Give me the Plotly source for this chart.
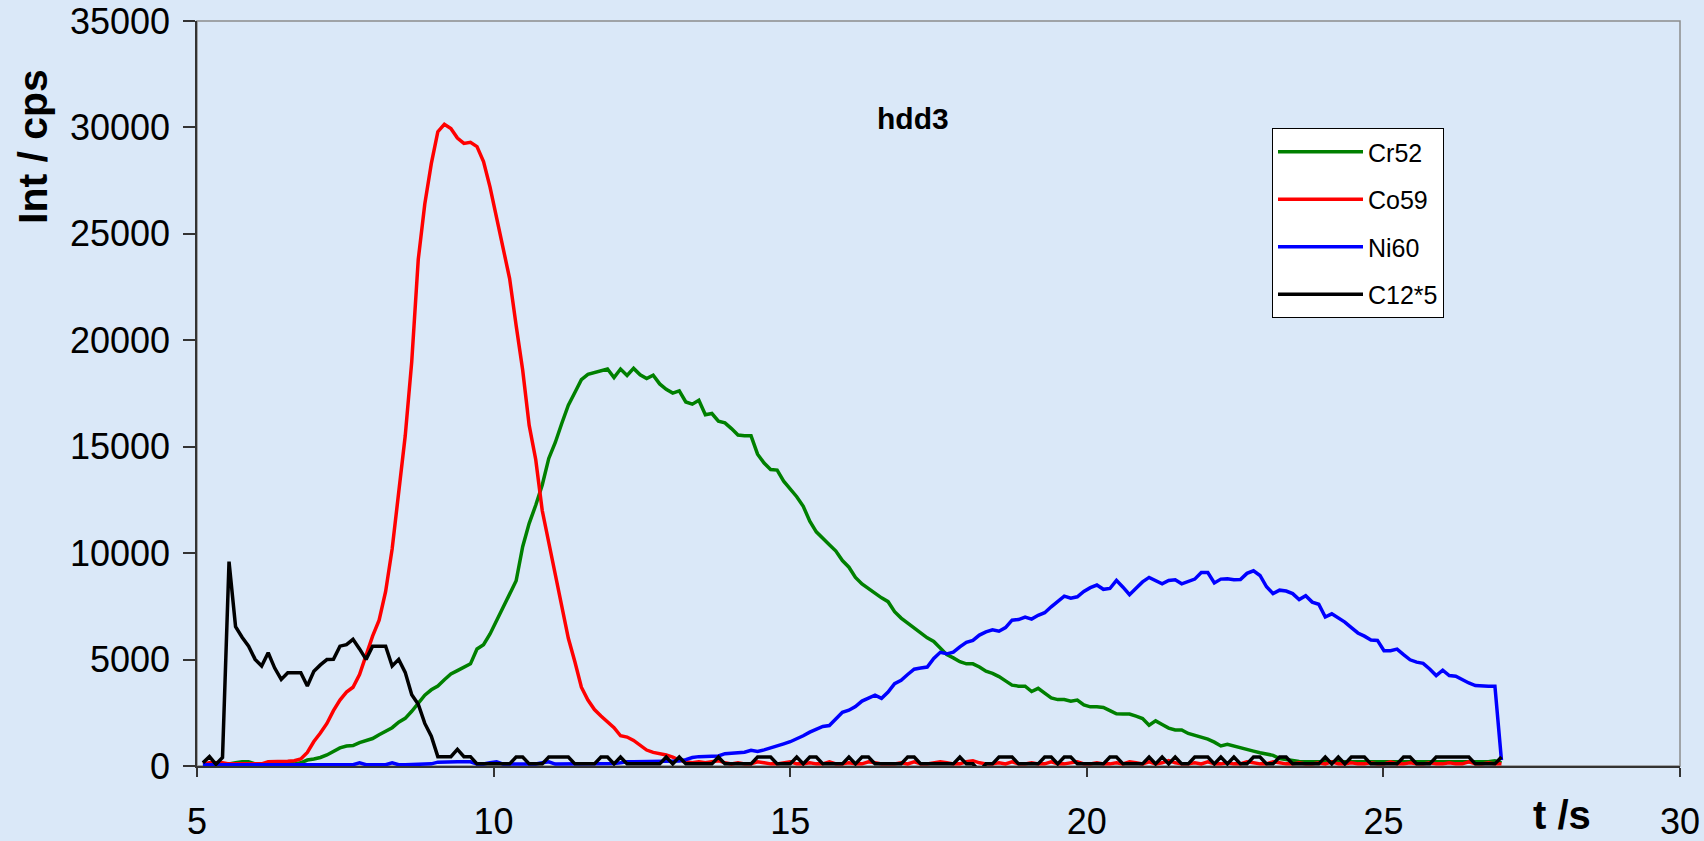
import plotly.graph_objects as go

# acquisition times (s)
t = [5.10, 5.21, 5.32, 5.43, 5.54, 5.65, 5.76, 5.87, 5.98, 6.09,
     6.20, 6.31, 6.42, 6.53, 6.64, 6.75, 6.86, 6.97, 7.08, 7.19,
     7.30, 7.41, 7.52, 7.63, 7.74, 7.85, 7.96, 8.07, 8.18, 8.29,
     8.40, 8.51, 8.62, 8.73, 8.84, 8.95, 9.06, 9.17, 9.28, 9.39,
     9.50, 9.61, 9.72, 9.83, 9.94, 10.05, 10.16, 10.27, 10.38, 10.49,
     10.60, 10.71, 10.82, 10.93, 11.04, 11.15, 11.26, 11.37, 11.48, 11.59,
     11.70, 11.81, 11.92, 12.03, 12.14, 12.25, 12.36, 12.47, 12.58, 12.69,
     12.80, 12.91, 13.02, 13.13, 13.24, 13.35, 13.46, 13.57, 13.68, 13.79,
     13.90, 14.01, 14.12, 14.23, 14.34, 14.45, 14.56, 14.67, 14.78, 14.89,
     15.00, 15.11, 15.22, 15.33, 15.44, 15.55, 15.66, 15.77, 15.88, 15.99,
     16.10, 16.21, 16.32, 16.43, 16.54, 16.65, 16.76, 16.87, 16.98, 17.09,
     17.20, 17.31, 17.42, 17.53, 17.64, 17.75, 17.86, 17.97, 18.08, 18.19,
     18.30, 18.41, 18.52, 18.63, 18.74, 18.85, 18.96, 19.07, 19.18, 19.29,
     19.40, 19.51, 19.62, 19.73, 19.84, 19.95, 20.06, 20.17, 20.28, 20.39,
     20.50, 20.61, 20.72, 20.83, 20.94, 21.05, 21.16, 21.27, 21.38, 21.49,
     21.60, 21.71, 21.82, 21.93, 22.04, 22.15, 22.26, 22.37, 22.48, 22.59,
     22.70, 22.81, 22.92, 23.03, 23.14, 23.25, 23.36, 23.47, 23.58, 23.69,
     23.80, 23.91, 24.02, 24.13, 24.24, 24.35, 24.46, 24.57, 24.68, 24.79,
     24.90, 25.01, 25.12, 25.23, 25.34, 25.45, 25.56, 25.67, 25.78, 25.89,
     26.00, 26.11, 26.22, 26.33, 26.44, 26.55, 26.66, 26.77, 26.88, 26.99]

cr52 = [50, 50, 50, 100, 100, 150, 200, 200, 100, 100,
        100, 100, 100, 100, 100, 150, 280, 330, 400, 520,
        680, 850, 940, 960, 1100, 1210, 1290, 1470, 1640, 1800,
        2060, 2240, 2570, 2960, 3330, 3580, 3760, 4050, 4320, 4480,
        4620, 4800, 5500, 5700, 6200, 6830, 7500, 8050, 8700, 10300,
        11400, 12250, 13200, 14450, 15200, 16100, 16950, 17550, 18150, 18400,
        18480, 18600, 18650, 18250, 18650, 18350, 18680, 18380, 18200, 18360,
        17950, 17700, 17520, 17620, 17100, 17000, 17180, 16500, 16560, 16200,
        16120, 15850, 15550, 15510, 15510, 14650, 14230, 13930, 13900, 13380,
        13040, 12650, 12200, 11500, 11000, 10680, 10400, 10100, 9650, 9340,
        8860, 8550, 8320, 8080, 7900, 7720, 7250, 6950, 6720, 6470,
        6220, 6020, 5850, 5530, 5230, 5080, 4900, 4800, 4800, 4650,
        4450, 4350, 4200, 4000, 3800, 3750, 3750, 3500, 3650, 3420,
        3200, 3120, 3120, 3040, 3100, 2870, 2780, 2780, 2750, 2600,
        2450, 2440, 2440, 2340, 2230, 1920, 2120, 1950, 1780, 1690,
        1690, 1530, 1440, 1350, 1260, 1120, 940, 1020, 930, 860,
        780, 700, 620, 550, 500, 350, 290, 240, 210, 200,
        200, 200, 200, 200, 200, 200, 200, 200, 200, 200,
        200, 200, 200, 200, 200, 200, 200, 200, 200, 200,
        200, 200, 200, 200, 200, 200, 200, 200, 250, 150]

co59 = [100, 150, 150, 150, 100, 100, 100, 100, 100, 100,
        200, 200, 200, 220, 250, 330, 640, 1150, 1550, 2000,
        2600, 3100, 3470, 3700, 4300, 5200, 6100, 6850, 8200, 10200,
        12700, 15500, 19000, 23800, 26400, 28300, 29800, 30150, 29950, 29500,
        29250, 29300, 29100, 28400, 27200, 25800, 24400, 22900, 20700, 18600,
        16000, 14400, 12000, 10500, 9100, 7600, 6000, 4900, 3700, 3100,
        2650, 2350, 2050, 1800, 1420, 1360, 1200, 950, 750, 640,
        600, 520, 420, 280, 200, 150, 200, 150, 200, 250,
        150, 100, 150, 100, 100, 200, 150, 100, 100, 150,
        200, 100, 100, 150, 100, 100, 200, 100, 100, 150,
        100, 100, 200, 150, 100, 100, 100, 150, 100, 200,
        100, 100, 150, 200, 150, 100, 100, 200, 250, 150,
        100, 100, 150, 100, 200, 100, 100, 150, 100, 100,
        200, 100, 100, 150, 200, 100, 100, 150, 100, 100,
        150, 100, 200, 150, 100, 200, 100, 150, 250, 150,
        100, 100, 150, 100, 200, 100, 100, 150, 100, 100,
        200, 150, 100, 100, 200, 150, 100, 100, 150, 100,
        100, 150, 100, 200, 100, 100, 150, 100, 100, 150,
        100, 100, 200, 100, 100, 150, 100, 100, 150, 100,
        100, 150, 100, 100, 200, 100, 100, 150, 100, 100]

ni60 = [60, 60, 60, 60, 60, 60, 60, 60, 60, 60,
        60, 60, 60, 60, 60, 60, 60, 60, 60, 60,
        60, 60, 60, 60, 150, 60, 60, 60, 60, 150,
        60, 60, 60, 60, 60, 100, 180, 200, 200, 200,
        200, 200, 90, 90, 150, 200, 90, 90, 90, 90,
        90, 90, 150, 200, 90, 90, 90, 90, 90, 90,
        90, 90, 90, 120, 150, 200, 200, 200, 200, 200,
        200, 200, 220, 240, 300, 400, 440, 440, 440, 470,
        580, 610, 630, 650, 740, 680, 760, 840, 950, 1040,
        1140, 1270, 1420, 1590, 1740, 1860, 1900, 2200, 2520, 2620,
        2790, 3050, 3200, 3330, 3180, 3470, 3870, 4030, 4300, 4550,
        4600, 4650, 5050, 5340, 5270, 5350, 5600, 5810, 5900, 6150,
        6300, 6400, 6330, 6500, 6850, 6880, 7000, 6900, 7080, 7200,
        7480, 7750, 7980, 7880, 7950, 8200, 8380, 8500, 8300, 8340,
        8720, 8400, 8050, 8350, 8650, 8860, 8700, 8560, 8720, 8750,
        8560, 8650, 8780, 9090, 9090, 8600, 8780, 8800, 8750, 8760,
        9050, 9170, 8950, 8420, 8100, 8260, 8220, 8100, 7820, 8000,
        7700, 7600, 7000, 7150, 6950, 6760, 6500, 6250, 6100, 5920,
        5900, 5420, 5420, 5490, 5230, 4990, 4880, 4820, 4560, 4250,
        4500, 4250, 4220, 4050, 3900, 3780, 3750, 3750, 3750, 280]

c12x5 = [150, 440, 80, 400, 9600, 6550, 6050, 5630, 5010, 4700,
         5320, 4600, 4070, 4380, 4380, 4380, 3760, 4450, 4750, 5000,
         5010, 5630, 5700, 5950, 5500, 5010, 5630, 5630, 5630, 4700,
         5010, 4400, 3350, 2900, 2000, 1400, 440, 440, 440, 780,
         440, 440, 100, 100, 100, 100, 100, 100, 420, 420,
         100, 100, 100, 420, 420, 420, 420, 100, 100, 100,
         100, 420, 420, 100, 420, 100, 100, 100, 100, 100,
         100, 420, 100, 420, 100, 100, 100, 100, 100, 420,
         100, 100, 100, 100, 100, 420, 420, 420, 100, 100,
         100, 420, 100, 420, 420, 100, 100, 100, 100, 420,
         100, 420, 420, 100, 100, 100, 100, 100, 420, 420,
         100, 100, 100, 100, 100, 100, 420, 100, 100, -250,
         100, 100, 420, 420, 420, 100, 100, 100, 100, 420,
         420, 100, 420, 420, 100, 100, 100, 100, 100, 420,
         420, 100, 100, 100, 100, 420, 100, 420, 100, 420,
         100, 100, 420, 420, 420, 100, 420, 100, 420, 100,
         100, 420, 420, 100, 100, 420, 420, 100, 100, 100,
         100, 100, 420, 100, 420, 100, 420, 420, 420, 100,
         100, 100, 100, 100, 420, 420, 100, 100, 100, 420,
         420, 420, 420, 420, 420, 100, 100, 100, 100, 420]

series_names = ["Cr52", "Co59", "Ni60", "C12*5"]
series_values = [cr52, co59, ni60, c12x5]
series_colors = ["#008000", "#FF0000", "#0000FF", "#000000"]

for s in series_values:
    assert len(s) == len(t), len(s)

FONT = "Liberation Sans, Arial, sans-serif"
BG = "#DAE8F8"
W, H = 1704, 841
L, R, T, B = 197, 24, 21, 75
PW, PH = W - L - R, H - T - B

def px(x):
    return (x - L) / PW

def py(y):
    return (H - B - y) / PH

fig = go.Figure()
for name, vals, col in zip(series_names, series_values, series_colors):
    fig.add_trace(go.Scatter(x=t, y=vals, mode="lines", name=name,
                             legendgroup=name,
                             line=dict(color=col, width=3.5)))

axis_common = dict(showgrid=False, zeroline=False, showline=True,
                   linecolor="#333333", linewidth=1.5, automargin=False,
                   ticks="outside", tickcolor="#333333", tickwidth=1.5,
                   tickfont=dict(family=FONT, size=36, color="black"))

fig.update_layout(
    width=W, height=H,
    margin=dict(l=L, r=R, t=T, b=B, pad=0, autoexpand=False),
    paper_bgcolor=BG, plot_bgcolor=BG,
    font=dict(family=FONT, color="black"),
    xaxis=dict(range=[5, 30], tick0=5, dtick=5, ticklen=9,
               ticklabelstandoff=14, **axis_common),
    yaxis=dict(range=[0, 35000], tick0=0, dtick=5000, tickformat="d",
               ticklen=12, ticklabelstandoff=6, **axis_common),
    showlegend=True,
    legend=dict(x=px(1272), y=py(128), xanchor="left", yanchor="top",
                bgcolor="white", bordercolor="black", borderwidth=1,
                font=dict(family=FONT, size=25, color="black"),
                tracegroupgap=12, itemwidth=85, traceorder="grouped"),
    shapes=[dict(type="rect", xref="paper", yref="paper", x0=0, x1=1, y0=0, y1=1,
                 line=dict(color="#8C8C8C", width=1.5), layer="below")],
    annotations=[
        dict(text="<b>hdd3</b>", xref="paper", yref="paper", x=px(913), y=py(119),
             xanchor="center", yanchor="middle", showarrow=False,
             font=dict(family=FONT, size=30, color="black")),
        dict(text="<b>Int / cps</b>", xref="paper", yref="paper", x=px(33), y=py(147),
             xanchor="center", yanchor="middle", showarrow=False, textangle=-90,
             font=dict(family=FONT, size=41, color="black")),
        dict(text="<b>t /s</b>", xref="paper", yref="paper", x=px(1562), y=py(815),
             xanchor="center", yanchor="middle", showarrow=False,
             font=dict(family=FONT, size=40, color="black")),
    ],
)

fig.write_html("out.html")
